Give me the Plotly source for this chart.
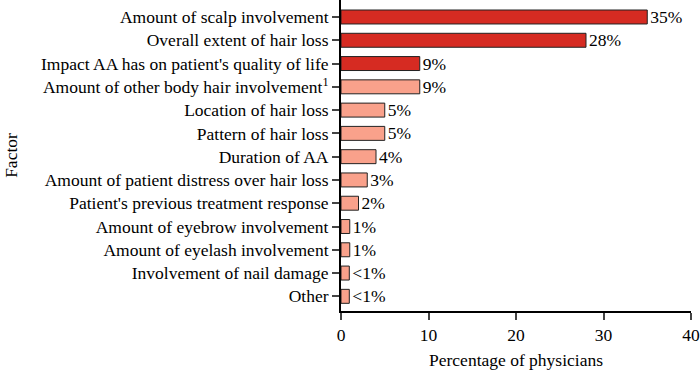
import plotly.graph_objects as go

factors = [
    "Amount of scalp involvement",
    "Overall extent of hair loss",
    "Impact AA has on patient's quality of life",
    "Amount of other body hair involvement<sup>1</sup>",
    "Location of hair loss",
    "Pattern of hair loss",
    "Duration of AA",
    "Amount of patient distress over hair loss",
    "Patient's previous treatment response",
    "Amount of eyebrow involvement",
    "Amount of eyelash involvement",
    "Involvement of nail damage",
    "Other",
]
values = [35, 28, 9, 9, 5, 5, 4, 3, 2, 1, 1, 0.95, 0.95]
value_labels = ["35%", "28%", "9%", "9%", "5%", "5%", "4%", "3%", "2%", "1%", "1%", "<1%", "<1%"]
highlight = [True, True, True] + [False] * 10
x_ticks = [0, 10, 20, 30, 40]

dark = "#d62b22"
light = "#f9a18b"
colors = [dark if h else light for h in highlight]

font = "Liberation Serif, Times New Roman, serif"
fs = 17.5

fig = go.Figure(go.Bar(
    y=factors, x=values, orientation="h",
    marker=dict(color=colors, line=dict(color="#222222", width=1)),
    width=0.6,
    text=value_labels, textposition="outside", cliponaxis=False,
    constraintext="none",
    textfont=dict(family=font, size=fs, color="black"),
    hoverinfo="skip",
))

fig.update_layout(
    width=700, height=371,
    margin=dict(l=341, r=9, t=0, b=60, autoexpand=False),
    plot_bgcolor="white", paper_bgcolor="white",
    showlegend=False,
    font=dict(family=font, size=fs, color="black"),
    xaxis=dict(
        range=[0, 40], tickvals=x_ticks, ticks="outside", ticklen=7, tickwidth=1.5,
        showline=True, linecolor="black", linewidth=2, showgrid=False, zeroline=False,
        title=dict(text="Percentage of physicians", standoff=10, font=dict(size=fs)),
        tickfont=dict(family=font, size=fs), automargin=False,
    ),
    yaxis=dict(
        categoryorder="array", categoryarray=factors,
        autorange=False, range=[12.63, -0.73],
        ticks="outside", ticklen=7, tickwidth=1.5,
        showline=True, linecolor="black", linewidth=2, showgrid=False,
        title=dict(text="Factor", standoff=19, font=dict(size=fs)),
        tickfont=dict(family=font, size=fs), automargin=False,
    ),
)

fig.write_html("out.html", post_script="document.body.style.margin='0';",
               config={"displayModeBar": False})
